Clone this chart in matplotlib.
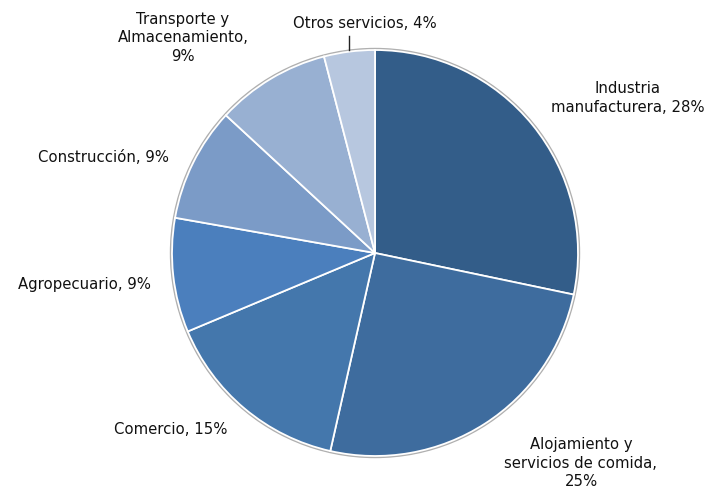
import matplotlib.pyplot as plt
import numpy as np

# sector shares (%)
sectores = ['Industria\nmanufacturera, 28%',
            'Alojamiento y\nservicios de comida,\n25%',
            'Comercio, 15%',
            'Agropecuario, 9%',
            'Construcción, 9%',
            'Transporte y\nAlmacenamiento,\n9%',
            'Otros servicios, 4%']
valores = [28, 25, 15, 9, 9, 9, 4]
colores = ['#335d89', '#3e6c9e', '#4477ac', '#4b7fbd', '#7b9bc7', '#98b0d2', '#b7c7df']

# label anchor points in pixel coords (x, y from top)
label_pos = [(628, 98), (581, 463), (171, 430), (84, 285), (103, 157), (183, 38), (365, 24)]

W, H = 711, 495
fig = plt.figure(figsize=(W / 100, H / 100), dpi=100)
ax = fig.add_axes([0, 0, 1, 1])
ax.set_xlim(0, W)
ax.set_ylim(0, H)
ax.set_aspect('equal')
ax.axis('off')

cx, cy, r = 375, H - 253, 203

# soft gray rim behind the pie
ax.add_patch(plt.Circle((cx, cy), r + 1.5, color='#b0b0b0', zorder=0))

wedges, _ = ax.pie(valores, colors=colores, startangle=90, counterclock=False,
                   center=(cx, cy), radius=r, normalize=True,
                   wedgeprops=dict(edgecolor='white', linewidth=1.3))
ax.set_xlim(0, W)
ax.set_ylim(0, H)

for txt, (x, y) in zip(sectores, label_pos):
    ax.text(x, H - y, txt, ha='center', va='center', fontsize=10.7,
            color='#111111', linespacing=1.3, family='DejaVu Sans')

# leader line for the small slice
w = wedges[-1]
ang = np.deg2rad((w.theta1 + w.theta2) / 2)
x0 = cx + r * np.cos(ang)
ax.plot([x0, x0], [cy + r * np.sin(ang) + 2, H - 36], color='#222222', lw=1)

fig.savefig('out.png', dpi=100)
